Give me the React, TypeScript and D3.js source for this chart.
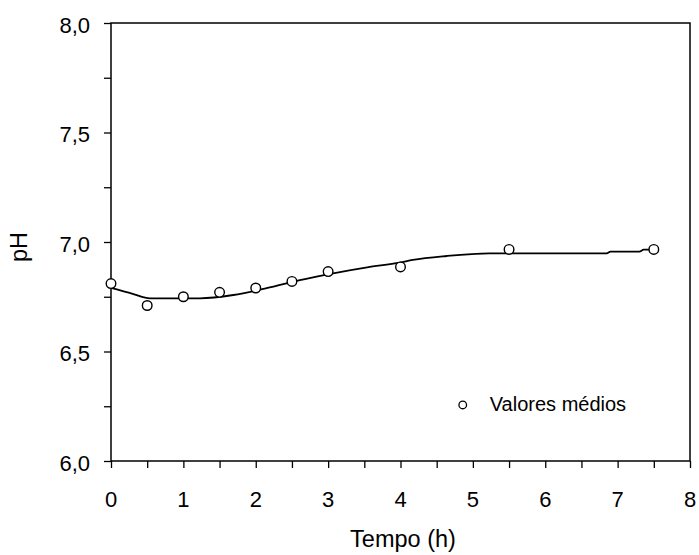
import React, { useEffect, useRef } from 'react';
import * as d3 from 'd3';

// measured mean values
const timeHours = [0, 0.5, 1, 1.5, 2, 2.5, 3, 4, 5.5, 7.5];
const phValues = [6.81, 6.71, 6.75, 6.77, 6.79, 6.82, 6.865, 6.886, 6.966, 6.966];

// fitted curve
const fitTime = [0, 0.3, 0.54, 1.0, 1.23, 1.69, 2.15, 2.61, 3.07, 3.54, 3.99, 4.17, 4.64, 5.23, 6.85, 6.9, 7.3, 7.36, 7.48];
const fitPh = [6.79, 6.763, 6.743, 6.743, 6.743, 6.758, 6.789, 6.826, 6.857, 6.884, 6.906, 6.918, 6.936, 6.948, 6.948, 6.956, 6.956, 6.965, 6.965];

const xTicksMajor = [0, 1, 2, 3, 4, 5, 6, 7, 8];
const yTicksMajor = [6.0, 6.5, 7.0, 7.5, 8.0];

const legendLabel = 'Valores médios';
const xTitle = 'Tempo (h)';
const yTitle = 'pH';

const W = 699;
const H = 555;

export default function App() {
  const svgRef = useRef<SVGSVGElement>(null);

  useEffect(() => {
    if (!svgRef.current) return;
    const svg = d3.select(svgRef.current);
    svg.selectAll('*').remove();

    const margin = { top: 23, right: 9, bottom: 94, left: 111 };
    const width = W - margin.left - margin.right;
    const height = H - margin.top - margin.bottom;
    const font = '"Liberation Sans", Arial, sans-serif';

    const g = svg.append('g').attr('transform', `translate(${margin.left},${margin.top})`);

    const x = d3.scaleLinear().domain([0, 8]).range([0, width]);
    const y = d3.scaleLinear().domain([6, 8]).range([height, 0]);

    // frame
    g.append('rect')
      .attr('x', 0).attr('y', 0)
      .attr('width', width).attr('height', height)
      .attr('fill', 'none').attr('stroke', '#000').attr('stroke-width', 1.5);

    // ticks (every 0.5 h, every 0.25 pH)
    const xMinor = d3.range(0, 8.01, 0.5);
    const yMinor = d3.range(6, 8.01, 0.25);

    g.append('g')
      .attr('transform', `translate(0,${height})`)
      .call(d3.axisBottom(x).tickValues(xMinor).tickSize(7).tickFormat(() => ''))
      .call(a => a.select('.domain').remove())
      .call(a => a.selectAll('line').attr('stroke-width', 1.3));

    g.append('g')
      .call(d3.axisLeft(y).tickValues(yMinor).tickSize(7).tickFormat(() => ''))
      .call(a => a.select('.domain').remove())
      .call(a => a.selectAll('line').attr('stroke-width', 1.3));

    // tick labels
    g.append('g')
      .selectAll('text')
      .data(xTicksMajor)
      .enter().append('text')
      .attr('x', d => x(d))
      .attr('y', height + 46)
      .attr('text-anchor', 'middle')
      .style('font-family', font)
      .style('font-size', '22px')
      .text(d => String(d));

    g.append('g')
      .selectAll('text')
      .data(yTicksMajor)
      .enter().append('text')
      .attr('x', -21)
      .attr('y', d => y(d) + 9.5)
      .attr('text-anchor', 'end')
      .style('font-family', font)
      .style('font-size', '22px')
      .text(d => d.toFixed(1).replace('.', ','));

    // axis titles
    svg.append('text')
      .attr('x', 403)
      .attr('y', 547)
      .attr('text-anchor', 'middle')
      .style('font-family', font)
      .style('font-size', '23.5px')
      .text(xTitle);

    svg.append('text')
      .attr('transform', `translate(27,247) rotate(-90)`)
      .attr('text-anchor', 'middle')
      .style('font-family', font)
      .style('font-size', '23.5px')
      .text(yTitle);

    // fitted curve
    const line = d3.line<number>()
      .x((_, i) => x(fitTime[i]))
      .y(d => y(d))
      .curve(d3.curveMonotoneX);

    g.append('path')
      .datum(fitPh)
      .attr('fill', 'none')
      .attr('stroke', '#000')
      .attr('stroke-width', 1.8)
      .attr('d', line);

    // points
    g.selectAll('.pt')
      .data(phValues)
      .enter().append('circle')
      .attr('class', 'pt')
      .attr('cx', (_, i) => x(timeHours[i]))
      .attr('cy', d => y(d))
      .attr('r', 4.8)
      .attr('fill', '#fff')
      .attr('stroke', '#000')
      .attr('stroke-width', 1.4);

    // legend
    const lg = g.append('g').attr('transform', `translate(${x(4.86)},${y(6.256)})`);
    lg.append('circle')
      .attr('cx', 0).attr('cy', 0).attr('r', 3.8)
      .attr('fill', '#fff').attr('stroke', '#000').attr('stroke-width', 1.3);
    lg.append('text')
      .attr('x', 27)
      .attr('y', 6.5)
      .style('font-family', font)
      .style('font-size', '20px')
      .text(legendLabel);
  }, []);

  return (
    <div style={{ position: 'absolute', left: 0, top: 0, background: '#fff' }}>
      <svg ref={svgRef} width={W} height={H} style={{ display: 'block' }} />
    </div>
  );
}
